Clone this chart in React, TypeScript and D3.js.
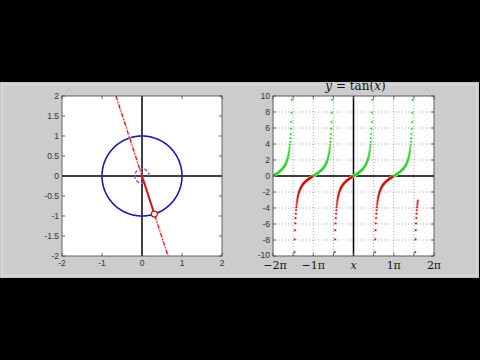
import React from "react";
import * as d3 from "d3";

// ---- data ----
// tan values for one rising branch, sampled every 1.2° (π/150) from 0 up to the asymptote
const tanBranch = [
  0, 0.021, 0.042, 0.063, 0.084, 0.105, 0.126, 0.148, 0.169, 0.191,
  0.213, 0.235, 0.257, 0.279, 0.302, 0.325, 0.348, 0.372, 0.396, 0.42,
  0.445, 0.471, 0.496, 0.523, 0.55, 0.577, 0.606, 0.635, 0.664, 0.695,
  0.727, 0.759, 0.793, 0.827, 0.863, 0.9, 0.939, 0.979, 1.021, 1.065,
  1.111, 1.159, 1.209, 1.262, 1.317, 1.376, 1.439, 1.505, 1.576, 1.651,
  1.732, 1.819, 1.913, 2.014, 2.125, 2.246, 2.379, 2.526, 2.689, 2.872,
  3.078, 3.312, 3.582, 3.895, 4.265, 4.705, 5.242, 5.912, 6.772, 7.916,
  9.514, 11.909, 15.895, 23.859, 47.74,
];
const samplesPerPeriod = 150; // samples per π
const sweepStartPi = -2; // sweep start (in multiples of π)
const sweepEndPi = 1.6; // current angle (in multiples of π)

const leftTicksX = [-2, -1, 0, 1, 2];
const leftTicksY = [2, 1.5, 1, 0.5, 0, -0.5, -1, -1.5, -2];
const rightTicksY = [10, 8, 6, 4, 2, 0, -2, -4, -6, -8, -10];
const rightGridX = [-2, -1.5, -1, -0.5, 0, 0.5, 1, 1.5, 2]; // multiples of π
const rightTickLabels = [
  { v: -2, t: "\u22122\u03c0" },
  { v: -1, t: "\u22121\u03c0" },
  { v: 1, t: "1\u03c0" },
  { v: 2, t: "2\u03c0" },
];
const arcRadius = 0.18;

// build sample points from the branch table
type Pt = { x: number; y: number };
const points: Pt[] = [];
{
  const n = Math.round((sweepEndPi - sweepStartPi) * samplesPerPeriod);
  for (let i = 0; i <= n; i++) {
    const j = i % samplesPerPeriod;
    const half = samplesPerPeriod / 2;
    let y: number | null;
    if (j < half) y = tanBranch[j];
    else if (j === half) y = null;
    else y = -tanBranch[samplesPerPeriod - j];
    if (y === null) continue;
    points.push({ x: (sweepStartPi + i / samplesPerPeriod) * Math.PI, y });
  }
}

const L = { x0: 62, x1: 222, y0: 96, y1: 256 };
const R = { x0: 273, x1: 434, y0: 96, y1: 256 };

export default function App() {
  const lx = d3.scaleLinear().domain([-2, 2]).range([L.x0, L.x1]);
  const ly = d3.scaleLinear().domain([-2, 2]).range([L.y1, L.y0]);
  const rx = d3.scaleLinear().domain([-2 * Math.PI, 2 * Math.PI]).range([R.x0, R.x1]);
  const ry = d3.scaleLinear().domain([-10, 10]).range([R.y1, R.y0]);

  const theta = sweepEndPi * Math.PI;
  const c = Math.cos(theta);
  const s = Math.sin(theta);

  const circlePath = d3.line<number>()
    .x((a) => lx(Math.cos(a)))
    .y((a) => ly(Math.sin(a)))(d3.range(0, 2 * Math.PI + 0.01, 0.02));

  const arcPath = d3.line<number>()
    .x((a) => lx(arcRadius * Math.cos(a)))
    .y((a) => ly(arcRadius * Math.sin(a)))(d3.range(0, theta + 0.001, 0.02).concat([theta]));

  const serif = "'DejaVu Serif', 'Liberation Serif', serif";
  const sans = "'Liberation Sans', Arial, sans-serif";
  const tickCol = "#333";
  const tl = 3;

  const visible = points.filter((p) => p.y >= -10.2 && p.y <= 10.2);

  return (
    <svg width={480} height={360} style={{ position: "absolute", left: 0, top: 0 }}>
      <defs>
        <clipPath id="clipL">
          <rect x={L.x0} y={L.y0} width={L.x1 - L.x0} height={L.y1 - L.y0} />
        </clipPath>
        <clipPath id="clipR">
          <rect x={R.x0} y={R.y0} width={R.x1 - R.x0} height={R.y1 - R.y0} />
        </clipPath>
      </defs>
      <rect x={0} y={0} width={480} height={360} fill="#000" />
      <rect x={0} y={82} width={479} height={196} fill="#cccccc" />
      <rect x={2.5} y={84.5} width={474} height={191} fill="none" stroke="#dedede" strokeWidth={1} />

      {/* ---------- left plot ---------- */}
      <rect x={L.x0} y={L.y0} width={L.x1 - L.x0} height={L.y1 - L.y0} fill="#fff" />
      <g clipPath="url(#clipL)">
        <line x1={lx(0)} x2={lx(0)} y1={L.y0} y2={L.y1} stroke="#000" strokeWidth={1.5} />
        <line x1={L.x0} x2={L.x1} y1={ly(0)} y2={ly(0)} stroke="#000" strokeWidth={1.5} />
        <path d={circlePath ?? ""} fill="none" stroke="#1c1ca6" strokeWidth={1.6} />
        <path d={arcPath ?? ""} fill="none" stroke="#9a58c0" strokeWidth={1.5} strokeDasharray="3.5,2" />
        <line
          x1={lx(-3 * c)} y1={ly(-3 * s)} x2={lx(3 * c)} y2={ly(3 * s)}
          stroke="#f2a0a0" strokeWidth={2.4} opacity={0.5}
        />
        <line
          x1={lx(-3 * c)} y1={ly(-3 * s)} x2={lx(3 * c)} y2={ly(3 * s)}
          stroke="#d01010" strokeWidth={1.1} strokeDasharray="4,2,1,2"
        />
        <line x1={lx(0)} y1={ly(0)} x2={lx(c)} y2={ly(s)} stroke="#d01010" strokeWidth={1.8} />
        <circle cx={lx(c)} cy={ly(s)} r={3} fill="#fff" stroke="#d01010" strokeWidth={1.2} />
      </g>
      <rect x={L.x0} y={L.y0} width={L.x1 - L.x0} height={L.y1 - L.y0} fill="none" stroke="#444" strokeWidth={0.8} />
      {leftTicksX.map((v) => (
        <g key={"lx" + v}>
          <line x1={lx(v)} x2={lx(v)} y1={L.y1} y2={L.y1 - tl} stroke="#444" strokeWidth={0.8} />
          <line x1={lx(v)} x2={lx(v)} y1={L.y0} y2={L.y0 + tl} stroke="#444" strokeWidth={0.8} />
          <text x={lx(v)} y={266} fontSize={8.5} fontFamily={sans} fill={tickCol} textAnchor="middle">
            {String(v)}
          </text>
        </g>
      ))}
      {leftTicksY.map((v) => (
        <g key={"ly" + v}>
          <line x1={L.x0} x2={L.x0 + tl} y1={ly(v)} y2={ly(v)} stroke="#444" strokeWidth={0.8} />
          <line x1={L.x1} x2={L.x1 - tl} y1={ly(v)} y2={ly(v)} stroke="#444" strokeWidth={0.8} />
          <text x={L.x0 - 3} y={ly(v) + 3} fontSize={8.5} fontFamily={sans} fill={tickCol} textAnchor="end">
            {String(v)}
          </text>
        </g>
      ))}

      {/* ---------- right plot ---------- */}
      <rect x={R.x0} y={R.y0} width={R.x1 - R.x0} height={R.y1 - R.y0} fill="#fff" />
      <g clipPath="url(#clipR)">
        {rightGridX.map((v) => (
          <line key={"gx" + v} x1={rx(v * Math.PI)} x2={rx(v * Math.PI)} y1={R.y0} y2={R.y1}
            stroke="#888" strokeWidth={0.7} strokeDasharray="1,2" />
        ))}
        {rightTicksY.map((v) => (
          <line key={"gy" + v} x1={R.x0} x2={R.x1} y1={ry(v)} y2={ry(v)}
            stroke="#888" strokeWidth={0.7} strokeDasharray="1,2" />
        ))}
        <line x1={rx(0)} x2={rx(0)} y1={R.y0} y2={R.y1} stroke="#000" strokeWidth={1.5} />
        <line x1={R.x0} x2={R.x1} y1={ry(0)} y2={ry(0)} stroke="#000" strokeWidth={1.5} />
        {visible.map((p, i) => (
          <circle key={"h" + i} cx={rx(p.x)} cy={ry(p.y)} r={1.6}
            fill={p.y >= 0 ? "#a8eca8" : "#eaa0a0"} opacity={0.6} />
        ))}
        {visible.map((p, i) => (
          <circle key={"p" + i} cx={rx(p.x)} cy={ry(p.y)} r={0.9}
            fill={p.y >= 0 ? "#2fcf2f" : "#c81414"} />
        ))}
      </g>
      <rect x={R.x0} y={R.y0} width={R.x1 - R.x0} height={R.y1 - R.y0} fill="none" stroke="#444" strokeWidth={0.8} />
      {rightTicksY.map((v) => (
        <g key={"ry" + v}>
          <line x1={R.x0} x2={R.x0 + tl} y1={ry(v)} y2={ry(v)} stroke="#444" strokeWidth={0.8} />
          <line x1={R.x1} x2={R.x1 - tl} y1={ry(v)} y2={ry(v)} stroke="#444" strokeWidth={0.8} />
          <text x={R.x0 - 3} y={ry(v) + (v === -10 ? 2 : 3)} fontSize={8.5} fontFamily={sans} fill={tickCol} textAnchor="end">
            {String(v)}
          </text>
        </g>
      ))}
      {rightGridX.map((v) => (
        <g key={"rx" + v}>
          <line x1={rx(v * Math.PI)} x2={rx(v * Math.PI)} y1={R.y1} y2={R.y1 - tl} stroke="#444" strokeWidth={0.8} />
          <line x1={rx(v * Math.PI)} x2={rx(v * Math.PI)} y1={R.y0} y2={R.y0 + tl} stroke="#444" strokeWidth={0.8} />
        </g>
      ))}
      {rightTickLabels.map((d) => (
        <text key={"rl" + d.v} x={rx(d.v * Math.PI) + (d.v === -2 ? 2 : 0)} y={269} fontSize={11} fontFamily={serif}
          fill="#111" textAnchor="middle">
          {d.t}
        </text>
      ))}
      <text x={rx(0)} y={269} fontSize={11} fontFamily={serif} fontStyle="italic" fill="#111" textAnchor="middle">
        x
      </text>
      <text x={rx(0) + 2} y={90} fontSize={12} fontFamily={serif} fill="#111" textAnchor="middle">
        <tspan fontStyle="italic">y</tspan>
        <tspan> = tan(</tspan>
        <tspan fontStyle="italic">x</tspan>
        <tspan>)</tspan>
      </text>
    </svg>
  );
}
